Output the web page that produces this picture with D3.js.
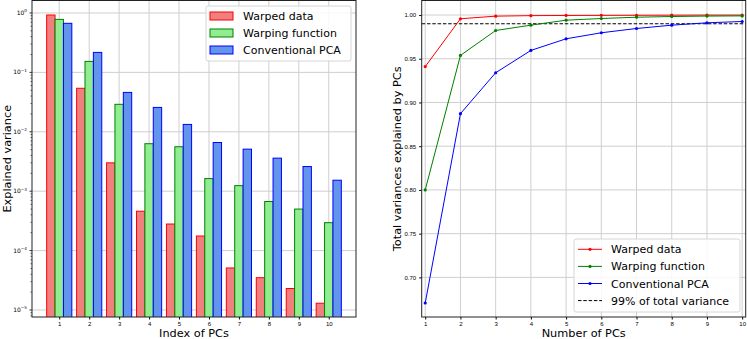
<!DOCTYPE html>
<html>
<head>
<meta charset="utf-8">
<script src="https://cdn.jsdelivr.net/npm/d3@7"></script>
<style>
    body { margin: 0; background: #fff; }
    svg { font-family: "DejaVu Sans", sans-serif; }
    .grid line { stroke: #cfcfcf; stroke-width: 1; }
    .tick text { font-size: 6px; fill: #000; }
    .label { font-size: 11.3px; fill: #000; }
    .legend text { font-size: 11px; fill: #000; }
</style>
</head>
<body>
<div class="chart"></div>
<script>
    // index of PCs
    const pcs = [1, 2, 3, 4, 5, 6, 7, 8, 9, 10];
    const seriesNames = ["Warped data", "Warping function", "Conventional PCA"];

    // explained variance per PC (log plot)
    const warpedVar = [0.925, 0.054, 0.0030, 4.6e-4, 2.8e-4, 1.76e-4, 5.1e-5, 3.5e-5, 2.3e-5, 1.3e-5];
    const warpingVar = [0.78, 0.153, 0.029, 0.0063, 0.0056, 0.00163, 0.00124, 6.7e-4, 5.0e-4, 2.95e-4];
    const pcaVar = [0.67, 0.217, 0.046, 0.0257, 0.0133, 0.0066, 0.0051, 0.0036, 0.0026, 0.00153];

    // cumulative variance (right plot)
    const warpedCum = [0.941, 0.9957, 0.9987, 0.9993, 0.9995, 0.9996, 0.9997, 0.9998, 0.9999, 0.9999];
    const warpingCum = [0.800, 0.9538, 0.9823, 0.9884, 0.9941, 0.9960, 0.9975, 0.9983, 0.9988, 0.9990];
    const pcaCum = [0.6707, 0.8872, 0.934, 0.9595, 0.9728, 0.9797, 0.9846, 0.9884, 0.9911, 0.9926];
    const threshold = 0.99;
    const thresholdLabel = "99% of total variance";

    const leftTicks = [1e0, 1e-1, 1e-2, 1e-3, 1e-4, 1e-5];
    const rightYTicks = [0.70, 0.75, 0.80, 0.85, 0.90, 0.95, 1.00];

    const fills = ["#f08080", "#90ee90", "#6495ed"];
    const edges = ["#ff0000", "#008000", "#0000ff"];
    const lineColors = ["#ff0000", "#008000", "#0000ff"];

    const width = 747, height = 339;
    const svg = d3.select(".chart").append("svg")
        .attr("width", width)
        .attr("height", height);

    // ---------------- left: bar chart ----------------
    const L = {left: 32, right: 356, top: 0.5, bottom: 317};
    const xL = d3.scaleLinear().domain([0.09, 10.91]).range([L.left, L.right]);
    const yL = d3.scaleLog().domain([Math.pow(10, -5.118), Math.pow(10, 0.21)]).range([L.bottom, L.top]);

    const gL = svg.append("g");
    svg.append("clipPath").attr("id", "clipL")
        .append("rect").attr("x", L.left).attr("y", L.top)
        .attr("width", L.right - L.left).attr("height", L.bottom - L.top);

    const gridL = gL.append("g").attr("class", "grid");
    gridL.selectAll("line.v").data(pcs).enter().append("line")
        .attr("x1", d => xL(d)).attr("x2", d => xL(d))
        .attr("y1", L.top).attr("y2", L.bottom);
    gridL.selectAll("line.h").data(leftTicks).enter().append("line")
        .attr("x1", L.left).attr("x2", L.right)
        .attr("y1", d => yL(d)).attr("y2", d => yL(d));

    const barW = 0.28;
    const barSeries = [warpedVar, warpingVar, pcaVar];
    const gBars = gL.append("g").attr("clip-path", "url(#clipL)");
    barSeries.forEach(function (vals, s) {
        gBars.selectAll("rect.s" + s).data(vals).enter().append("rect")
            .attr("class", "s" + s)
            .attr("x", (d, i) => xL(pcs[i] + (s - 1) * barW - barW / 2))
            .attr("width", xL(barW) - xL(0))
            .attr("y", d => yL(d))
            .attr("height", d => L.bottom + 5 - yL(d))
            .attr("fill", fills[s])
            .attr("stroke", edges[s])
            .attr("stroke-width", 1);
    });

    // axes
    const axLx = gL.append("g").attr("transform", "translate(0," + L.bottom + ")")
        .call(d3.axisBottom(xL).tickValues(pcs).tickSize(2.5).tickPadding(2).tickFormat(d3.format("d")));
    axLx.select(".domain").remove();

    // y ticks with minor ones
    const minorL = [];
    for (let e = -6; e <= 0; e++) {
        for (let m = 2; m <= 9; m++) {
            const v = m * Math.pow(10, e);
            if (v > yL.domain()[0] && v < yL.domain()[1]) minorL.push(v);
        }
    }
    const axLy = gL.append("g").attr("transform", "translate(" + L.left + ",0)");
    axLy.selectAll("line.minor").data(minorL).enter().append("line")
        .attr("x1", -1.5).attr("x2", 0)
        .attr("y1", d => yL(d)).attr("y2", d => yL(d))
        .attr("stroke", "#000").attr("stroke-width", 0.6);
    axLy.selectAll("line.major").data(leftTicks).enter().append("line")
        .attr("x1", -2.5).attr("x2", 0)
        .attr("y1", d => yL(d)).attr("y2", d => yL(d))
        .attr("stroke", "#000").attr("stroke-width", 0.8);
    const yLabels = axLy.selectAll("text").data(leftTicks).enter().append("text")
        .attr("x", -5).attr("y", d => yL(d) + 2)
        .attr("text-anchor", "end")
        .style("font-size", "6px");
    yLabels.append("tspan").text("10");
    yLabels.append("tspan")
        .attr("dy", -2.5)
        .style("font-size", "4.2px")
        .text(d => {
            const e = Math.round(Math.log10(d));
            return e === 0 ? "0" : "\u2212" + (-e);
        });

    gL.append("rect").attr("x", L.left).attr("y", L.top)
        .attr("width", L.right - L.left).attr("height", L.bottom - L.top)
        .attr("fill", "none").attr("stroke", "#222").attr("stroke-width", 1);

    gL.append("text").attr("class", "label")
        .attr("x", (L.left + L.right) / 2).attr("y", 336.5)
        .attr("text-anchor", "middle").text("Index of PCs");
    gL.append("text").attr("class", "label")
        .attr("transform", "translate(11," + (L.top + L.bottom) / 2 + ") rotate(-90)")
        .attr("text-anchor", "middle").text("Explained variance");

    // legend left
    const legL = gL.append("g").attr("class", "legend");
    legL.append("rect").attr("x", 206).attr("y", 6).attr("width", 145).attr("height", 55)
        .attr("rx", 2).attr("fill", "#fff").attr("fill-opacity", 0.85)
        .attr("stroke", "#d6d6d6").attr("stroke-width", 1);
    seriesNames.forEach(function (name, s) {
        const cy = 16 + s * 17;
        legL.append("rect").attr("x", 210).attr("y", cy - 4).attr("width", 23).attr("height", 8)
            .attr("fill", fills[s]).attr("stroke", edges[s]).attr("stroke-width", 1);
        legL.append("text").attr("x", 243).attr("y", cy + 4).text(name);
    });

    // ---------------- right: cumulative lines ----------------
    const R = {left: 421.7, right: 745.7, top: 0.5, bottom: 317};
    const xR = d3.scaleLinear().domain([0.9, 10.1]).range([R.left, R.right]);
    const yR = d3.scaleLinear().domain([0.6547, 1.0166]).range([R.bottom, R.top]);

    const gR = svg.append("g");
    const gridR = gR.append("g").attr("class", "grid");
    gridR.selectAll("line.v").data(pcs).enter().append("line")
        .attr("x1", d => xR(d)).attr("x2", d => xR(d))
        .attr("y1", R.top).attr("y2", R.bottom);
    gridR.selectAll("line.h").data(rightYTicks).enter().append("line")
        .attr("x1", R.left).attr("x2", R.right)
        .attr("y1", d => yR(d)).attr("y2", d => yR(d));

    gR.append("line")
        .attr("x1", R.left).attr("x2", R.right)
        .attr("y1", yR(threshold)).attr("y2", yR(threshold))
        .attr("stroke", "#000").attr("stroke-width", 1).attr("stroke-dasharray", "3.5,1.8");

    const line = d3.line().x((d, i) => xR(pcs[i])).y(d => yR(d));
    const cumSeries = [warpedCum, warpingCum, pcaCum];
    cumSeries.forEach(function (vals, s) {
        gR.append("path").datum(vals)
            .attr("d", line)
            .attr("fill", "none")
            .attr("stroke", lineColors[s])
            .attr("stroke-width", 1);
        gR.selectAll("circle.s" + s).data(vals).enter().append("circle")
            .attr("cx", (d, i) => xR(pcs[i]))
            .attr("cy", d => yR(d))
            .attr("r", 1.6)
            .attr("fill", lineColors[s]);
    });

    const axRx = gR.append("g").attr("transform", "translate(0," + R.bottom + ")")
        .call(d3.axisBottom(xR).tickValues(pcs).tickSize(2.5).tickPadding(2).tickFormat(d3.format("d")));
    axRx.select(".domain").remove();
    const axRy = gR.append("g").attr("transform", "translate(" + R.left + ",0)")
        .call(d3.axisLeft(yR).tickValues(rightYTicks).tickSize(2.5).tickPadding(3).tickFormat(d3.format(".2f")));
    axRy.select(".domain").remove();

    gR.append("rect").attr("x", R.left).attr("y", R.top)
        .attr("width", R.right - R.left).attr("height", R.bottom - R.top)
        .attr("fill", "none").attr("stroke", "#222").attr("stroke-width", 1);

    gR.append("text").attr("class", "label")
        .attr("x", (R.left + R.right) / 2).attr("y", 336.5)
        .attr("text-anchor", "middle").text("Number of PCs");
    gR.append("text").attr("class", "label")
        .attr("transform", "translate(401," + (R.top + R.bottom) / 2 + ") rotate(-90)")
        .attr("text-anchor", "middle").text("Total variances explained by PCs");

    // legend right
    const legR = gR.append("g").attr("class", "legend");
    legR.append("rect").attr("x", 574).attr("y", 239).attr("width", 166).attr("height", 73)
        .attr("rx", 2).attr("fill", "#fff").attr("fill-opacity", 0.85)
        .attr("stroke", "#d6d6d6").attr("stroke-width", 1);
    const legItems = seriesNames.concat([thresholdLabel]);
    legItems.forEach(function (name, s) {
        const cy = 249.3 + s * 17.1;
        const ln = legR.append("line").attr("x1", 578).attr("x2", 602)
            .attr("y1", cy).attr("y2", cy).attr("stroke-width", 1);
        if (s < 3) {
            ln.attr("stroke", lineColors[s]);
            legR.append("circle").attr("cx", 590).attr("cy", cy).attr("r", 1.6).attr("fill", lineColors[s]);
        } else {
            ln.attr("stroke", "#000").attr("stroke-dasharray", "3.5,1.8");
        }
        legR.append("text").attr("x", 611).attr("y", cy + 4).text(name);
    });
</script>
</body>
</html>
